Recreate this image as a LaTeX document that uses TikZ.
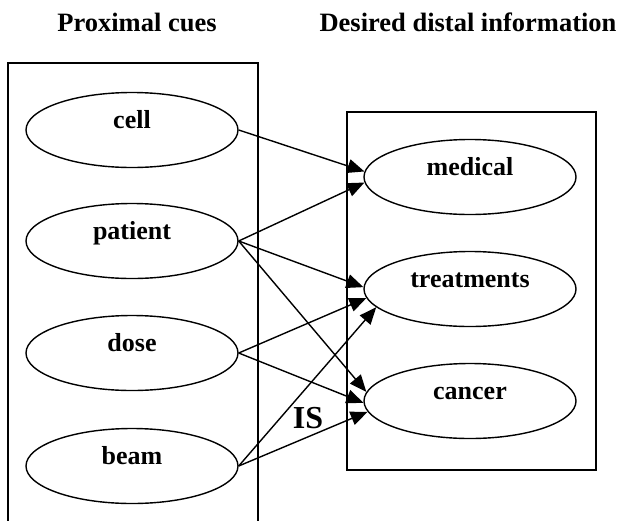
\documentclass[tikz,border=0pt]{standalone}
\usepackage{fontspec}
\setmainfont{Liberation Serif}
\usetikzlibrary{arrows.meta,shapes.geometric}
\tikzset{
  cue/.style={ellipse,draw,line width=1.4pt,minimum width=212pt,minimum height=75pt,inner sep=0pt,
    text height=14pt,text depth=18pt,
    font=\fontsize{26}{30}\selectfont\bfseries},
  title/.style={font=\fontsize{26.5}{30}\selectfont\bfseries,inner sep=0pt},
  box/.style={draw,line width=1.4pt},
  link/.style={line width=1.4pt,-{Triangle[length=17pt,width=14pt]}},
}
\begin{document}
\begin{tikzpicture}[x=1pt,y=-1pt]
\useasboundingbox (0,0) rectangle (618,520);
\clip (0,0) rectangle (618,520);
\node[title] (t1) at (137,22) {Proximal cues};
\node[title] (t2) at (468,22) {Desired distal information};
\draw[box] (8,63) rectangle (258,540);
\draw[box] (347,112) rectangle (596,470);
\node[cue] (cell) at (132,130) {cell};
\node[cue] (patient) at (132,241) {patient};
\node[cue] (dose) at (132,353) {dose};
\node[cue] (beam) at (132,466) {beam};
\node[cue] (medical) at (470,177) {medical};
\node[cue] (treatments) at (470,289) {treatments};
\node[cue] (cancer) at (470,401) {cancer};
\node[font=\fontsize{32}{36}\selectfont\bfseries,inner sep=0pt] (is) at (308,418) {IS};
\draw[link] (cell.east) -- (medical.177);
\draw[link] (patient.east) -- (medical.183);
\draw[link] (patient.east) -- (treatments.179);
\draw[link] (patient.east) -- (cancer.175);
\draw[link] (dose.east) -- (treatments.185);
\draw[link] (dose.east) -- (cancer.181);
\draw[link] (beam.east) -- (treatments.191);
\draw[link] (beam.east) -- (cancer.186);
\end{tikzpicture}
\end{document}
